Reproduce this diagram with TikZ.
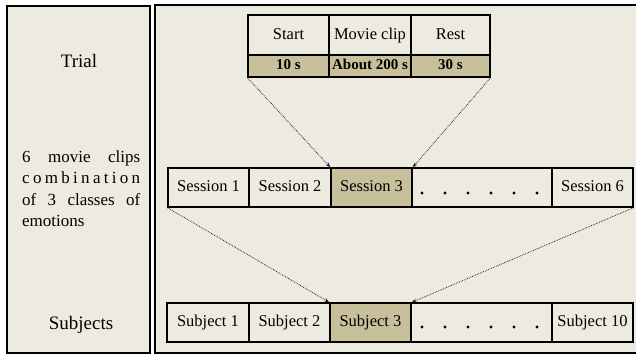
\documentclass[tikz,border=0pt]{standalone}
\usepackage{fontspec}
\setmainfont{Liberation Serif}
\usetikzlibrary{arrows.meta}
\definecolor{bgc}{HTML}{EDEAE0}
\definecolor{tan}{HTML}{C8C09A}
\begin{document}
\begin{tikzpicture}[x=1pt,y=-1pt,
  panel/.style={draw=black,line width=1.4pt,fill=bgc},
  cell/.style={draw=black,line width=1.3pt,inner sep=0pt,text height=11.5pt,text depth=3.5pt,font=\fontsize{16.5}{19}\selectfont},
  hl/.style={cell,fill=tan},
  bold/.style={font=\fontsize{15}{18}\selectfont\bfseries,text height=10.5pt,text depth=3pt},
  lbl/.style={font=\fontsize{19}{22}\selectfont,inner sep=0pt},
  conn/.style={densely dotted,draw=black!90,line width=0.75pt,-{Stealth[length=5pt,width=3.5pt]}},
  dotm/.style={circle,fill=black,inner sep=0pt,minimum size=3.4pt}]
\useasboundingbox (0,0) rectangle (636,357);
\fill[white] (0,0) rectangle (636,357);
% panels
\draw[panel] (7,6) rectangle (150,353);
\begin{scope}
\clip (0,0) rectangle (636,357);
\draw[panel] (155,5) rectangle (645,353);
\end{scope}
% left labels
\node[lbl] (ltrial) at (79,61) {Trial};
\node[inner sep=0pt,align=left,anchor=north west,font=\fontsize{17}{21.5}\selectfont] (lclips) at (22,150) {%
\makebox[118pt][s]{6 movie clips}\\
\makebox[118pt][s]{c\hfil o\hfil m\hfil b\hfil i\hfil n\hfil a\hfil t\hfil i\hfil o\hfil n}\\
\makebox[118pt][s]{of 3 classes of}\\
emotions};
\node[lbl] (lsubj) at (81,325) {Subjects};
% trial table
\node[cell,minimum width=81pt,minimum height=40pt] (tstart) at (288.5,35) {Start};
\node[cell,minimum width=82pt,minimum height=40pt] (tmovie) at (370,35) {Movie clip};
\node[cell,minimum width=79pt,minimum height=40pt] (trest) at (450.5,35) {Rest};
\node[hl,bold,minimum width=81pt,minimum height=22pt] (t10) at (288.5,66) {10 s};
\node[hl,bold,minimum width=82pt,minimum height=22pt] (t200) at (370,66) {About 200 s};
\node[hl,bold,minimum width=79pt,minimum height=22pt] (t30) at (450.5,66) {30 s};
% sessions
\node[cell,minimum width=81pt,minimum height=39pt] (s1) at (208.5,187.5) {Session 1};
\node[cell,minimum width=82pt,minimum height=39pt] (s2) at (290,187.5) {Session 2};
\node[hl,minimum width=81pt,minimum height=39pt] (s3) at (371.5,187.5) {Session 3};
\node[cell,minimum width=140pt,minimum height=39pt] (sdots) at (482,187.5) {};
\node[cell,minimum width=81pt,minimum height=39pt] (s6) at (592.5,187.5) {Session 6};
\foreach \i in {0,...,5} \node[dotm] (sd\i) at (422+23*\i,193) {};
% subjects
\node[cell,minimum width=82pt,minimum height=39pt] (p1) at (208,322.5) {Subject 1};
\node[cell,minimum width=81pt,minimum height=39pt] (p2) at (289.5,322.5) {Subject 2};
\node[hl,minimum width=81pt,minimum height=39pt] (p3) at (370.5,322.5) {Subject 3};
\node[cell,minimum width=141pt,minimum height=39pt] (pdots) at (481.5,322.5) {};
\node[cell,minimum width=81pt,minimum height=39pt] (p10) at (592.5,322.5) {Subject 10};
\foreach \i in {0,...,5} \node[dotm] (pd\i) at (422+23*\i,327) {};
% connectors
\draw[conn] (t10.south west) -- (s3.north west);
\draw[conn] (t30.south east) -- (s3.north east);
\draw[conn] (s1.south west) -- (p3.north west);
\draw[conn] (s6.south east) -- (p3.north east);
\end{tikzpicture}
\end{document}
